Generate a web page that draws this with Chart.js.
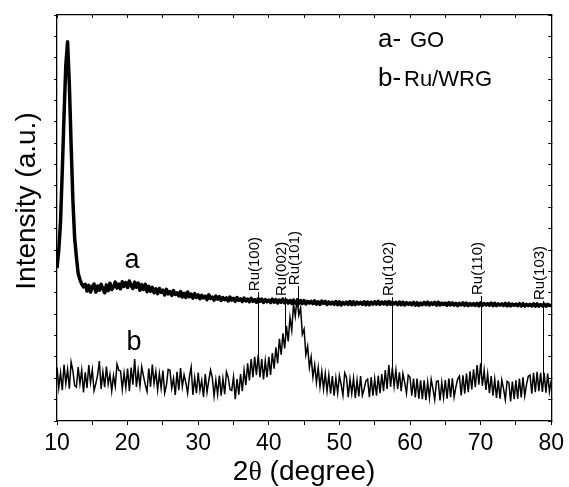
<!DOCTYPE html>
<html>
<head>
<meta charset="utf-8">
<title>XRD GO / Ru-WRG</title>
<script src="https://cdn.jsdelivr.net/npm/chart.js@4.4.1/dist/chart.umd.min.js"></script>
<style>
  html, body { margin: 0; padding: 0; background: #fff; }
  canvas { display: block; }
</style>
</head>
<body>
<canvas id="xrd" width="569" height="487"></canvas>
<script>
// Pattern a (GO), read every 0.25 deg from 10 to 80
const intensityA = [
    716, 800, 931, 1174,   1433, 1667, 1775, 1573,   1292, 1034, 856, 767,   690, 662, 641, 628,
    640, 608, 635, 604,   628, 641, 603, 632,   612, 640, 618, 600,   637, 610, 645, 615,
    628, 650, 622, 641,   618, 652, 630, 648,   625, 655, 634, 620,   650, 626, 645, 612,
    638, 616, 640, 605,   630, 608, 625, 600,   618, 596, 620, 602,   612, 590, 616, 595,
    605, 588, 610, 592,   600, 585, 606, 580,   598, 578, 604, 582,   594, 575, 596, 578,
    590, 572, 588, 576,   584, 568, 590, 574,   580, 566, 585, 570,   582, 564, 578, 568,
    576, 562, 580, 566,   574, 560, 578, 565,   572, 559, 575, 562,   570, 558, 574, 560,
    568, 556, 572, 560,   570, 555, 568, 558,   566, 554, 570, 556,   568, 552, 566, 555,
    570, 553, 565, 552,   564, 550, 566, 552,   562, 551, 564, 550,   563, 548, 560, 552,
    560, 549, 562, 547,   558, 546, 561, 550,   560, 545, 557, 548,   556, 546, 559, 544,
    558, 543, 555, 547,   556, 546, 559, 544,   558, 545, 556, 548,   555, 546, 558, 544,
    557, 544, 556, 547,   558, 547, 560, 546,   557, 548, 558, 545,   559, 546, 556, 548,
    555, 545, 557, 544,   556, 543, 554, 546,   553, 544, 555, 542,   554, 541, 552, 545,
    555, 545, 556, 543,   553, 546, 555, 542,   556, 543, 552, 545,   552, 541, 554, 543,
    553, 542, 551, 540,   550, 543, 553, 541,   552, 540, 549, 542,   549, 541, 551, 539,
    553, 541, 550, 543,   549, 542, 552, 540,   551, 540, 548, 542,   548, 541, 550, 539,
    550, 539, 547, 541,   547, 540, 549, 538,   549, 538, 546, 540,   546, 539, 548, 537,
    548, 538, 545, 539,   547, 537, 546, 540,
    543
];

// Pattern b (Ru/WRG), same 0.25 deg steps
const intensityB = [
    251, 156, 226, 144,   264, 176, 241, 151,   276, 236, 166, 158,   252, 175, 238, 134,
    228, 155, 262, 180,   240, 142, 175, 215,   280, 150, 230, 158,   255, 172, 218, 140,
    212, 162, 266, 238,   234, 148, 224, 156,   245, 140, 250, 170,   290, 160, 236, 164,
    253, 210, 170, 138,   246, 160, 264, 176,   232, 146, 222, 154,   236, 131, 168, 241,
    237, 154, 200, 122,   230, 144, 248, 160,   216, 180, 130, 206,   252, 122, 202, 130,
    227, 144, 190, 112,   220, 134, 190, 238,   202, 116, 192, 124,   213, 118, 198, 126,
    230, 205, 148, 143,   206, 102, 196, 123,   220, 140, 238, 168,   270, 190, 290, 205,
    300, 215, 310, 205,   290, 195, 282, 205,   300, 215, 318, 245,   345, 270, 385, 310,
    410, 340, 445, 372,   485, 425, 545, 490,   575, 495, 530, 405,   430, 310, 350, 250,
    300, 205, 262, 180,   250, 160, 232, 150,   222, 140, 215, 128,   210, 118, 200, 130,
    212, 170, 120, 225,   205, 112, 196, 128,   200, 108, 190, 115,   210, 120, 150, 188,
    196, 112, 205, 118,   198, 118, 212, 130,   220, 140, 238, 150,   262, 160, 250, 162,
    238, 150, 228, 140,   222, 180, 130, 215,   205, 118, 198, 110,   198, 105, 190, 102,
    190, 98, 182, 108,    195, 150, 100, 186,   188, 96, 180, 110,    192, 104, 198, 112,
    200, 112, 160, 196,   210, 120, 214, 128,   222, 135, 232, 148,   242, 158, 262, 170,
    270, 165, 238, 145,   220, 130, 210, 118,   195, 108, 190, 104,   192, 150, 100, 186,
    180, 92, 185, 102,    190, 104, 198, 110,   205, 118, 170, 210,   215, 128, 225, 135,
    230, 140, 226, 136,   225, 132, 222, 138,
    190
];

const twoTheta = intensityA.map((_, i) => 10 + i * 0.25);

// Ru reflections: position, label, marker line from label foot down to pattern b
const ruPeaks = [38.5, 42.3, 44.2, 57.4, 70.0, 78.8];
const ruNames = ['Ru(100)', 'Ru(002)', 'Ru(101)', 'Ru(102)', 'Ru(110)', 'Ru(103)'];
const ruTop = [603, 580, 631, 580, 585, 561];
const ruBottom = [280, 378, 533, 247, 247, 214];

const xTicksMajor = [10, 20, 30, 40, 50, 60, 70, 80];

const SANS = '"Liberation Sans", Arial, Helvetica, sans-serif';
const SERIF = '"Liberation Serif", "Times New Roman", serif';

// Draws Ru markers, curve letters, the key text and the axis titles
const annotations = {
    id: 'annotations',
    afterDatasetsDraw(chart) {
        const ctx = chart.ctx;
        const x = chart.scales.x;
        const y = chart.scales.y;
        ctx.save();
        ctx.strokeStyle = '#000';
        ctx.fillStyle = '#000';
        ctx.lineWidth = 1;

        ruPeaks.forEach((p, i) => {
            const px = Math.round(x.getPixelForValue(p)) + 0.5;
            const top = y.getPixelForValue(ruTop[i]);
            ctx.beginPath();
            ctx.moveTo(px, top);
            ctx.lineTo(px, y.getPixelForValue(ruBottom[i]));
            ctx.stroke();

            ctx.save();
            ctx.translate(px + 0.5, top - 1);
            ctx.rotate(-Math.PI / 2);
            ctx.font = '15px ' + SANS;
            ctx.textAlign = 'left';
            ctx.textBaseline = 'alphabetic';
            ctx.fillText(ruNames[i], 0, 0);
            ctx.restore();
        });

        // curve letters
        ctx.textBaseline = 'alphabetic';
        ctx.textAlign = 'center';
        ctx.font = '27px ' + SANS;
        ctx.fillText('a', 132, 268);
        ctx.fillText('b', 134, 350);

        // key
        ctx.textAlign = 'left';
        ctx.font = '26px ' + SANS;
        ctx.fillText('a-', 378, 47);
        ctx.fillText('b-', 378, 86);
        ctx.font = '22px ' + SANS;
        ctx.fillText('GO', 410, 47);
        ctx.fillText('Ru/WRG', 404, 86);

        // y title
        ctx.save();
        ctx.translate(35, 201);
        ctx.rotate(-Math.PI / 2);
        ctx.textAlign = 'center';
        ctx.font = '28px ' + SANS;
        ctx.fillText('Intensity (a.u.)', 0, 0);
        ctx.restore();

        // x title: 2θ (degree) with serif theta
        const parts = [['2', SANS], ['\u03b8', SERIF], [' (degree)', SANS]];
        let total = 0;
        parts.forEach(([t, f]) => { ctx.font = '28px ' + f; total += ctx.measureText(t).width; });
        let cx = (x.left + x.right) / 2 - total / 2;
        ctx.textAlign = 'left';
        parts.forEach(([t, f]) => {
            ctx.font = '28px ' + f;
            ctx.fillText(t, cx, 480);
            cx += ctx.measureText(t).width;
        });

        ctx.restore();
    }
};

const ctx = document.getElementById('xrd').getContext('2d');
const xrdChart = new Chart(ctx, {
    type: 'line',
    data: {
        datasets: [
            {
                label: 'a - GO',
                data: twoTheta.map((t, i) => ({ x: t, y: intensityA[i] })),
                borderColor: '#000',
                borderWidth: 3.5,
                borderJoinStyle: 'round',
                pointRadius: 0,
                tension: 0
            },
            {
                label: 'b - Ru/WRG',
                data: twoTheta.map((t, i) => ({ x: t, y: intensityB[i] })),
                borderColor: '#000',
                borderWidth: 1.5,
                pointRadius: 0,
                tension: 0
            }
        ]
    },
    options: {
        responsive: false,
        animation: false,
        devicePixelRatio: 1,
        layout: { padding: 0 },
        plugins: {
            legend: { display: false },
            tooltip: { enabled: false }
        },
        scales: {
            x: {
                type: 'linear',
                position: 'bottom',
                min: 10,
                max: 80,
                ticks: {
                    stepSize: 5,
                    autoSkip: false,
                    maxRotation: 0,
                    color: '#000',
                    padding: 5,
                    font: { size: 23, family: SANS },
                    callback: v => xTicksMajor.includes(v) ? String(v) : ''
                },
                grid: { drawOnChartArea: false, tickLength: 4, color: '#000' },
                border: { color: '#000', width: 1.3 },
                afterFit: s => { s.height = 66; }
            },
            x2: {
                type: 'linear',
                position: 'top',
                min: 10,
                max: 80,
                ticks: { stepSize: 5, display: false },
                grid: { drawOnChartArea: false, tickLength: -3, color: '#000' },
                border: { color: '#000', width: 1.3 },
                afterFit: s => { s.height = 15; }
            },
            y: {
                position: 'left',
                min: 0,
                max: 1900,
                ticks: { stepSize: 100, display: false },
                grid: { drawOnChartArea: false, tickLength: 3, color: '#000' },
                border: { color: '#000', width: 1.3 },
                afterFit: s => { s.width = 57; }
            },
            y2: {
                position: 'right',
                min: 0,
                max: 1900,
                ticks: { stepSize: 100, display: false },
                grid: { drawOnChartArea: false, tickLength: -3, color: '#000' },
                border: { color: '#000', width: 1.3 },
                afterFit: s => { s.width = 15; }
            }
        }
    },
    plugins: [annotations]
});
</script>
</body>
</html>
